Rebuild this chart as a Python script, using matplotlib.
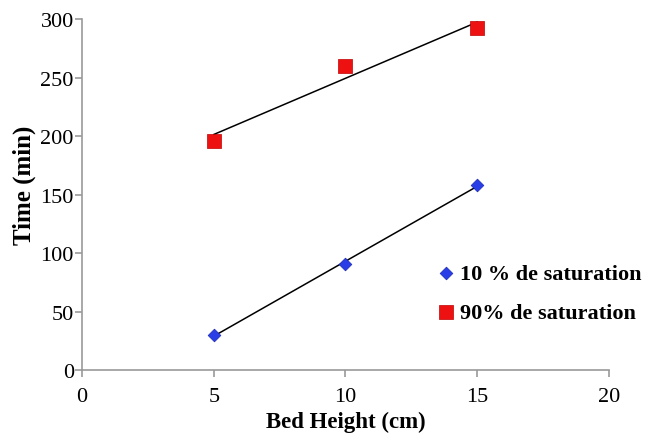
import numpy as np
import matplotlib
matplotlib.use("Agg")
import matplotlib.pyplot as plt

# данные с графика
bed_height = [5, 10, 15]
time_10 = [30, 91, 158]
time_90 = [196, 260, 292]
x_ticks = [0, 5, 10, 15, 20]
y_ticks = [0, 50, 100, 150, 200, 250, 300]

plt.rcParams["font.family"] = ["Liberation Serif", "DejaVu Serif"]

fig = plt.figure(figsize=(6.47, 4.35), dpi=100)
ax = fig.add_axes([0.127, 0.147, 0.814, 0.807])

# линии тренда (линейная аппроксимация)
x = np.array(bed_height)
for y in (time_10, time_90):
    k, b = np.polyfit(x, y, 1)
    ax.plot(x, k * x + b, color="black", lw=1.1, zorder=2)

ax.scatter(bed_height, time_10, marker="D", s=42, color="#2a3ee8",
           edgecolors="#1a28b0", linewidths=0.5, zorder=3, label="10 % de saturation")
ax.scatter(bed_height, time_90, marker="s", s=110, color="#ee1111",
           edgecolors="#c00000", linewidths=0.5, zorder=3, label="90% de saturation")

ax.set_xlim(0, 20)
ax.set_ylim(0, 300)
ax.set_xticks(x_ticks)
ax.set_yticks(y_ticks)

for side in ("top", "right"):
    ax.spines[side].set_visible(False)
for side in ("left", "bottom"):
    ax.spines[side].set_color("#999999")
    ax.spines[side].set_linewidth(1.2)
ax.tick_params(direction="out", color="#999999", length=5, width=1.2,
               labelsize=16)
ax.tick_params(axis="y", pad=1)
ax.tick_params(axis="x", pad=7)

ax.set_xlabel("Bed Height (cm)", fontsize=16.5, fontweight="bold")
ax.xaxis.set_label_coords(0.5, -0.117)
ax.set_ylabel("Time (min)", fontsize=18, fontweight="bold")
ax.yaxis.set_label_coords(-0.087, 0.53)

ax.legend(loc="upper left", bbox_to_anchor=(0.652, 0.33), frameon=False,
          prop={"size": 16, "weight": "bold"}, handletextpad=0.15,
          borderaxespad=0, handlelength=1.0, labelspacing=0.85)

fig.savefig("out.png", dpi=100)
